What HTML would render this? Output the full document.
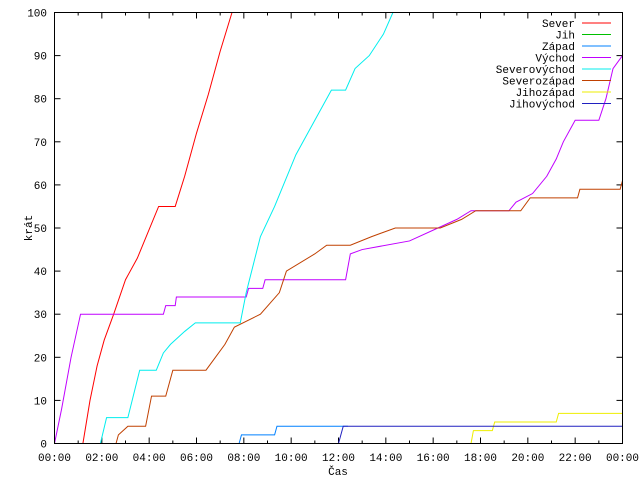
<!DOCTYPE html>
<html><head><meta charset="utf-8"><style>
body{margin:0;background:#fff}
svg{font-family:"Liberation Mono","DejaVu Sans Mono",monospace;font-size:11px}
</style></head><body>
<svg id="chart" width="640" height="480" xmlns="http://www.w3.org/2000/svg">
<rect width="640" height="480" fill="#fff"/>
<g id="grid"></g>
<g id="series"></g>
<rect x="54.5" y="12.5" width="568" height="431" fill="none" stroke="#000"/>
<text transform="translate(32,228) rotate(-90)" text-anchor="middle">krát</text>
<text x="338" y="475" text-anchor="middle">Čas</text>
<g id="legend"></g>
</svg>
<script>
const xTickLabels=["00:00","02:00","04:00","06:00","08:00","10:00","12:00","14:00","16:00","18:00","20:00","22:00","00:00"];
const yTicks=[0,10,20,30,40,50,60,70,80,90,100];
const seriesNames=["Sever","Jih","Západ","Východ","Severovýchod","Severozápad","Jihozápad","Jihovýchod"];
const seriesColors=["#ff0000","#00c000","#0080ff","#c000ff","#00eeee","#c04000","#eeee00","#2020c0"];
const sever=[[1.2,0],[1.5,10],[1.8,18],[2.1,24],[2.5,30],[3.0,38],[3.5,43],[3.8,47],[4.4,55],[5.1,55],[5.5,62],[6.0,72],[6.5,81],[7.0,91],[7.5,100]];
const jih=[];
const zapad=[[7.8,0],[7.9,2],[9.3,2],[9.4,4],[12.4,4]];
const vychod=[[0,0],[0.3,8],[0.7,20],[1.1,30],[4.6,30],[4.7,32],[5.1,32],[5.15,34],[8.1,34],[8.2,36],[8.8,36],[8.9,38],[12.3,38],[12.5,44],[13.0,45],[15.0,47],[16.2,50],[17.0,52],[17.6,54],[19.2,54],[19.5,56],[20.2,58],[20.8,62],[21.2,66],[21.5,70],[22.0,75],[23.0,75],[23.3,80],[23.6,87],[24,90]];
const severovychod=[[1.94,0],[2.2,6],[3.1,6],[3.6,17],[4.3,17],[4.6,21],[4.9,23],[5.5,26],[5.95,28],[7.85,28],[8.1,35],[8.7,48],[9.3,55],[10.2,67],[11.0,75],[11.7,82],[12.3,82],[12.7,87],[13.3,90],[13.9,95],[14.3,100]];
const severozapad=[[2.6,0],[2.7,2],[3.1,4],[3.85,4],[4.1,11],[4.7,11],[5.0,17],[6.4,17],[6.8,20],[7.2,23],[7.6,27],[8.7,30],[9.5,35],[9.8,40],[11.0,44],[11.5,46],[12.5,46],[13.4,48],[14.4,50],[16.3,50],[17.2,52],[17.8,54],[19.7,54],[20.1,57],[22.1,57],[22.2,59],[23.9,59],[24,61]];
const jihozapad=[[17.6,0],[17.7,3],[18.5,3],[18.6,5],[21.2,5],[21.3,7],[24,7]];
const jihovychod=[[12.0,0],[12.2,4],[24,4]];
const allSeries=[sever,jih,zapad,vychod,severovychod,severozapad,jihozapad,jihovychod];

const X0=54.5,X1=622.5,Y0=443.5,Y1=12.5;
const xs=h=>X0+h/24*(X1-X0);
const ys=v=>Y0-v/100*(Y0-Y1);
const NS="http://www.w3.org/2000/svg";
function mk(t,a,p){const e=document.createElementNS(NS,t);for(const k in a)e.setAttribute(k,a[k]);p.appendChild(e);return e;}
const grid=document.getElementById('grid');
for(let h=0;h<=24;h++){
  const x=xs(h),len=h%2===0?6:3;
  const t1=mk('line',{x1:x,x2:x,y1:Y0,y2:Y0-len,stroke:'#000'},grid);
  
  
  const t2=mk('line',{x1:x,x2:x,y1:Y1,y2:Y1+len,stroke:'#000'},grid);
  
  
}
xTickLabels.forEach((l,i)=>{
  const t=mk('text',{x:xs(i*2),y:461,'text-anchor':'middle'},grid);t.textContent=l;
  
  
});
yTicks.forEach(v=>{
  const y=ys(v);
  const a=mk('line',{x1:X0,x2:X0+6,y1:y,y2:y,stroke:'#000'},grid);
  
  
  const b=mk('line',{x1:X1,x2:X1-6,y1:y,y2:y,stroke:'#000'},grid);
  
  
  const t=mk('text',{x:47,y:y+4,'text-anchor':'end'},grid);t.textContent=v;
  
  
});
const sg=document.getElementById('series');
allSeries.forEach((s,i)=>{
  if(!s.length)return;
  const p=mk('polyline',{points:s.map(d=>xs(d[0])+','+ys(d[1])).join(' '),fill:'none',stroke:seriesColors[i],'stroke-width':1},sg);
  
  
});
const lg=document.getElementById('legend');
seriesNames.forEach((n,i)=>{
  const y=23+i*11.5;
  const t=mk('text',{x:575,y:y+4,'text-anchor':'end'},lg);t.textContent=n;
  
  
  const l=mk('line',{x1:582,x2:611,y1:y,y2:y,stroke:seriesColors[i]},lg);
  
  
});
</script>
</body></html>
